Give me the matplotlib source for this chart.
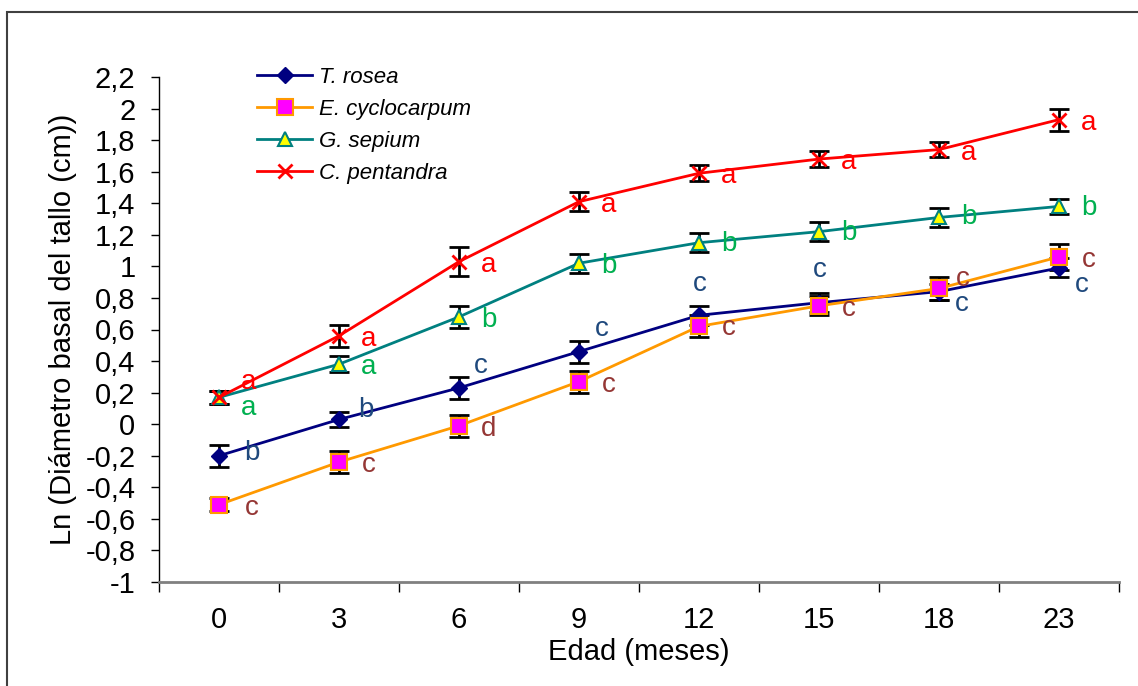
import matplotlib
matplotlib.use("Agg")
import matplotlib.pyplot as plt
from matplotlib.patches import Rectangle

plt.rcParams['font.family'] = ['Liberation Sans', 'DejaVu Sans']

edad = ["0", "3", "6", "9", "12", "15", "18", "23"]

rosea = [-0.20, 0.03, 0.23, 0.46, 0.69, 0.77, 0.84, 0.99]
rosea_err = [0.07, 0.05, 0.07, 0.07, 0.06, 0.06, 0.05, 0.06]
cyclo = [-0.51, -0.24, -0.01, 0.27, 0.62, 0.75, 0.86, 1.06]
cyclo_err = [0.04, 0.07, 0.07, 0.07, 0.07, 0.06, 0.07, 0.08]
sepium = [0.17, 0.38, 0.68, 1.02, 1.15, 1.22, 1.31, 1.38]
sepium_err = [0.04, 0.05, 0.07, 0.06, 0.06, 0.06, 0.06, 0.05]
pentandra = [0.17, 0.56, 1.03, 1.41, 1.59, 1.68, 1.74, 1.93]
pentandra_err = [0.04, 0.07, 0.09, 0.06, 0.05, 0.05, 0.05, 0.07]

# letras de significancia y donde van
rosea_let = ["b", "b", "c", "c", "c", "c", "c", "c"]
rosea_let_x = [0.27, 0.22, 0.18, 0.19, 0.01, 0.01, 0.19, 0.19]
rosea_let_y = [-0.18, 0.09, 0.37, 0.60, 0.89, 0.98, 0.76, 0.88]
cyclo_let = ["c", "c", "d", "c", "c", "c", "c", "c"]
cyclo_let_x = [0.27, 0.25, 0.25, 0.25, 0.25, 0.25, 0.2, 0.25]
cyclo_let_y = [-0.53, -0.26, -0.03, 0.25, 0.61, 0.73, 0.92, 1.04]
sepium_let = ["a", "a", "b", "b", "b", "b", "b", "b"]
sepium_let_x = [0.25] * 8
sepium_let_y = [0.10, 0.36, 0.66, 1.00, 1.14, 1.21, 1.31, 1.37]
pentandra_let = ["a"] * 8
pentandra_let_x = [0.25] * 8
pentandra_let_y = [0.27, 0.54, 1.01, 1.39, 1.57, 1.66, 1.72, 1.91]

fig = plt.figure(figsize=(11.38, 6.86), dpi=100)
ax = fig.add_axes([159 / 1138, 104 / 686, 960 / 1138, 505 / 686])

x = list(range(len(edad)))

series = [
    (rosea, rosea_err, "T. rosea", dict(color="#000080", marker="D", mfc="#000080", mec="#000080", ms=8)),
    (cyclo, cyclo_err, "E. cyclocarpum", dict(color="#FF9900", marker="s", mfc="#FF00FF", mec="#FF9900", ms=11, mew=1.5)),
    (sepium, sepium_err, "G. sepium", dict(color="#008080", marker="^", mfc="#FFFF00", mec="#008080", ms=10, mew=1.5)),
    (pentandra, pentandra_err, "C. pentandra", dict(color="#FF0000", marker="x", mfc="#FF0000", mec="#FF0000", ms=10, mew=2)),
]

for vals, err, name, st in series:
    ax.errorbar(x, vals, yerr=err, fmt="none", ecolor="black", elinewidth=2, capsize=7, capthick=2, zorder=2)
    ax.plot(x, vals, lw=2, label=name, zorder=3, **st)

labels = [
    (rosea_let, rosea_let_x, rosea_let_y, "#1F497D"),
    (cyclo_let, cyclo_let_x, cyclo_let_y, "#953735"),
    (sepium_let, sepium_let_x, sepium_let_y, "#00B050"),
    (pentandra_let, pentandra_let_x, pentandra_let_y, "#FF0000"),
]
for lets, dx, ys, col in labels:
    for i, (l, ox, yy) in enumerate(zip(lets, dx, ys)):
        ax.text(i + ox, yy, l, color=col, fontsize=20, ha="center", va="center", zorder=4)

ax.set_xlim(-0.5, 7.5)
ax.set_ylim(-1, 2.2)
ax.set_yticks([i / 5 for i in range(-5, 12)])
ax.set_yticklabels([("%g" % (i / 5)).replace(".", ",") for i in range(-5, 12)])
ax.set_xticks(x)
ax.set_xticklabels(edad)
ax.set_xticks([i - 0.5 for i in range(len(edad) + 1)], minor=True)
ax.tick_params(axis="x", which="major", length=0, labelsize=21, pad=17)
ax.tick_params(axis="x", which="minor", length=7, width=1)
ax.tick_params(axis="y", labelsize=21, length=6, width=1, pad=11)

ax.spines["top"].set_visible(False)
ax.spines["right"].set_visible(False)
ax.spines["bottom"].set_color("#808080")
ax.spines["bottom"].set_linewidth(2)
ax.spines["left"].set_linewidth(1)

ax.set_xlabel("Edad (meses)", fontsize=21, labelpad=3)
ax.set_ylabel("Ln (Diámetro basal del tallo (cm))", fontsize=21, labelpad=6)

leg = ax.legend(loc="upper left", bbox_to_anchor=(0.081, 1.06), frameon=False,
                prop={"style": "italic", "size": 16}, handlelength=2.5,
                labelspacing=0.5, handletextpad=0.3)

fig.patches.append(Rectangle((7 / 1138, -0.1), 1.2, 1 - 12 / 686 + 0.1, transform=fig.transFigure,
                             fill=False, edgecolor="#404040", lw=1.5))

fig.savefig("out.png", dpi=100)
